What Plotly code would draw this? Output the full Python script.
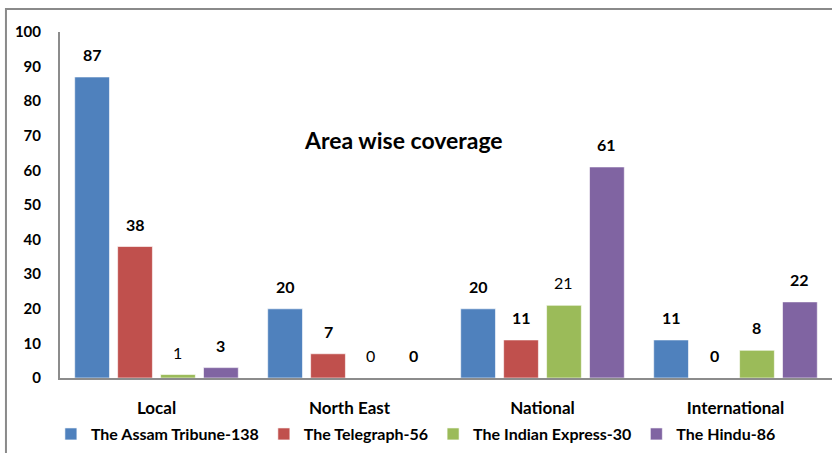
import plotly.graph_objects as go

categories = ["Local", "North East", "National", "International"]
series_names = ["The Assam Tribune-138", "The Telegraph-56", "The Indian Express-30", "The Hindu-86"]
assam = [87, 20, 20, 11]
telegraph = [38, 7, 11, 0]
indian_express = [1, 0, 21, 8]
hindu = [3, 0, 61, 22]
label_bold = [
    [True, True, True, True],
    [True, True, True, True],
    [False, False, False, True],
    [True, True, True, True],
]
colors = ["#4F81BD", "#C0504D", "#9BBB59", "#8064A2"]
yticks = [0, 10, 20, 30, 40, 50, 60, 70, 80, 90, 100]

FONT = "Lato"
BARGAP = 0.11
GROUPGAP = 0.19

series = [assam, telegraph, indian_express, hindu]
fig = go.Figure()
for name, vals, col in zip(series_names, series, colors):
    fig.add_trace(go.Bar(
        name=f"<b>{name}</b>", x=categories, y=vals,
        marker=dict(color=col, line=dict(color="rgba(255,255,255,0.6)", width=1)),
    ))

n = len(series)
slot = (1 - BARGAP) / n
annotations = []
for si, vals in enumerate(series):
    for ci, v in enumerate(vals):
        xpos = ci - (1 - BARGAP) / 2 + slot * (si + 0.5)
        txt = f"<b>{v}</b>" if label_bold[si][ci] else f"{v}"
        annotations.append(dict(
            x=xpos, y=v, xref="x", yref="y", text=txt, showarrow=False,
            yanchor="bottom", yshift=11,
            font=dict(family=FONT, size=16, color="#000000"),
        ))

annotations.append(dict(
    x=0.445, y=0.687, xref="paper", yref="paper", text="<b>Area wise coverage</b>",
    showarrow=False, xanchor="center", yanchor="middle",
    font=dict(family=FONT, size=23, color="#000000"),
))

fig.update_layout(
    width=832, height=453,
    margin=dict(l=60, r=0, t=32, b=75),
    paper_bgcolor="white", plot_bgcolor="white",
    barmode="group", bargap=BARGAP, bargroupgap=GROUPGAP,
    font=dict(family=FONT, size=14, color="#000000"),
    showlegend=True,
    legend=dict(orientation="h", x=0.461, xanchor="center", y=-0.162, yanchor="middle",
                font=dict(family=FONT, size=16, color="#000000"),
                itemwidth=30, traceorder="normal"),
    annotations=annotations,
    shapes=[dict(type="rect", xref="paper", yref="paper",
                 x0=-0.07, x1=1.02, y0=-0.24, y1=1.0665,
                 line=dict(color="#8a8a8a", width=2), fillcolor="rgba(0,0,0,0)", layer="below")],
)
fig.update_xaxes(
    showline=True, linecolor="#8c8c8c", linewidth=2, showgrid=False,
    tickfont=dict(family=FONT, size=17, color="#000000"), ticks="",
    tickprefix="<b>", ticksuffix="</b>", range=[-0.5, 3.5], ticklabelstandoff=14,
)
fig.update_yaxes(
    range=[0, 100], tickvals=yticks, ticktext=[f"<b>{t}</b>" for t in yticks],
    showline=True, linecolor="#8c8c8c", linewidth=2, showgrid=False, zeroline=False,
    tickfont=dict(family=FONT, size=15, color="#000000"), ticks="",
    ticklabelstandoff=14,
)
fig.write_html("out.html")
